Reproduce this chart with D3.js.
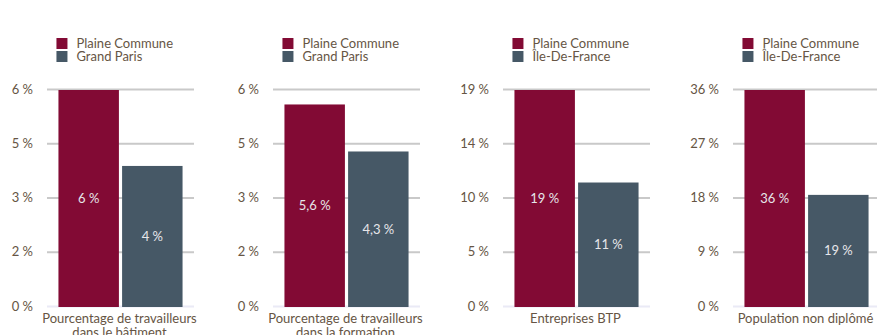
<!DOCTYPE html>
<html>
<head>
<meta charset="utf-8">
<script src="https://cdn.jsdelivr.net/npm/d3@7"></script>
<style>
  html, body { margin: 0; padding: 0; background: #ffffff; }
  svg { display: block; }
  text { font-family: Lato, "Noto Sans", sans-serif; }
</style>
</head>
<body>
<svg id="chart" width="877" height="335"></svg>
<script>
// Four small comparison panels: Plaine Commune vs. its reference territory
const categoryLines = [
  ["Pourcentage de travailleurs", "dans le bâtiment"],
  ["Pourcentage de travailleurs", "dans la formation"],
  ["Entreprises BTP"],
  ["Population non diplômé"]
];
const firstSeriesName = "Plaine Commune";
const secondSeriesNames = ["Grand Paris", "Grand Paris", "Île-De-France", "Île-De-France"];
const plaineCommuneValues = [6, 5.6, 19, 36];
const referenceValues = [3.9, 4.3, 10.9, 18.6];
const axisMax = [6, 6, 19, 36];
const tickValues = [
  [0, 1.5, 3, 4.5, 6],
  [0, 1.5, 3, 4.5, 6],
  [0, 4.75, 9.5, 14.25, 19],
  [0, 9, 18, 27, 36]
];
const tickLabels = [
  ["0 %", "2 %", "3 %", "5 %", "6 %"],
  ["0 %", "2 %", "3 %", "5 %", "6 %"],
  ["0 %", "5 %", "10 %", "14 %", "19 %"],
  ["0 %", "9 %", "18 %", "27 %", "36 %"]
];
const valueDecimals = [0, 1, 0, 0];

// Layout
const panelLeft = [47, 273, 503, 733];
const panelWidth = 147;
const plotTop = 89, plotBottom = 306;
const colors = ["#820a34", "#465866"];
const textColor = "#665544";

const fr = d3.formatLocale({ decimal: ",", thousands: "\u00a0", grouping: [3], currency: ["", " €"] });

const svg = d3.select("#chart");

const y = d3.scaleLinear().range([plotBottom, plotTop]);

categoryLines.forEach((lines, i) => {
  const g = svg.append("g").attr("transform", `translate(${panelLeft[i]},0)`);
  const yS = y.copy().domain([0, axisMax[i]]);
  const x = d3.scaleBand()
    .domain([0, 1])
    .range([0, panelWidth])
    .paddingInner(0.05)
    .paddingOuter(0.18);

  // Axis with gridlines
  const axis = d3.axisLeft(yS)
    .tickValues(tickValues[i])
    .tickSize(-panelWidth)
    .tickPadding(14)
    .tickFormat((d, k) => tickLabels[i][k]);
  const ax = g.append("g").call(axis);
  ax.select(".domain").remove();
  ax.selectAll(".tick line")
    .attr("stroke", (d) => d === 0 ? "#eaeaf6" : "#c9c9c9")
    .attr("stroke-width", 2);
  ax.selectAll(".tick text")
    .attr("fill", textColor)
    .style("font-size", "13px")
    .style("font-family", "Lato, 'Noto Sans', sans-serif");

  // Bars
  const vals = [plaineCommuneValues[i], referenceValues[i]];
  const fmt = fr.format(`.${valueDecimals[i]}f`);
  g.selectAll("rect.bar")
    .data(vals)
    .join("rect")
    .attr("class", "bar")
    .attr("x", (d, k) => x(k))
    .attr("width", x.bandwidth())
    .attr("y", (d) => yS(d) + 1)
    .attr("height", (d) => yS(0) - yS(d))
    .attr("fill", (d, k) => colors[k]);

  // Value labels in the middle of each bar
  g.selectAll("text.val")
    .data(vals)
    .join("text")
    .attr("class", "val")
    .attr("x", (d, k) => x(k) + x.bandwidth() / 2)
    .attr("y", (d) => (yS(d) + yS(0)) / 2 + 1)
    .attr("dy", "0.35em")
    .attr("text-anchor", "middle")
    .attr("fill", "#e6e6ea")
    .style("font-size", "13px")
    .text((d) => fmt(d) + " %");

  // Category label under the bars
  const cat = g.append("text")
    .attr("x", panelWidth / 2 - 1)
    .attr("y", 323)
    .attr("text-anchor", "middle")
    .attr("fill", textColor)
    .style("font-size", "13px");
  cat.selectAll("tspan")
    .data(lines)
    .join("tspan")
    .attr("x", panelWidth / 2 - 1)
    .attr("dy", (d, k) => k === 0 ? 0 : 14)
    .text((d) => d);

  // Legend
  const legendX = x(0) - 2;
  const legend = [firstSeriesName, secondSeriesNames[i]];
  const lg = g.append("g").attr("transform", `translate(${legendX},38)`);
  lg.selectAll("rect")
    .data(legend)
    .join("rect")
    .attr("x", 0)
    .attr("y", (d, k) => k * 13)
    .attr("width", 11)
    .attr("height", 11)
    .attr("fill", (d, k) => colors[k]);
  lg.selectAll("text")
    .data(legend)
    .join("text")
    .attr("x", 20)
    .attr("y", (d, k) => k * 13 + 10)
    .attr("fill", textColor)
    .style("font-size", "13px")
    .text((d) => d);
});
</script>
</body>
</html>
